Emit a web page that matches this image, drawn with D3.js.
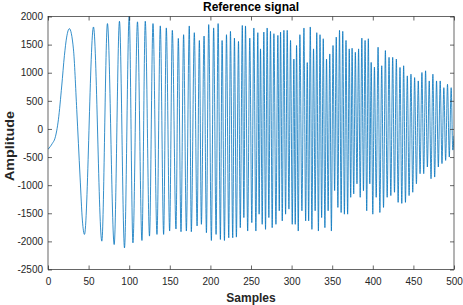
<!DOCTYPE html>
<html>
<head>
<meta charset="utf-8">
<script src="https://cdn.jsdelivr.net/npm/d3@7"></script>
<style>
  body { margin: 0; background: #fff; }
  svg { display: block; font-family: "Liberation Sans", Arial, Helvetica, sans-serif; }
</style>
</head>
<body>
<div id="chart"></div>
<script>
// sample index of each turning point
const samplePos = [
  0, 5.4, 8.6, 12.8, 16.9, 20.2, 23, 26.3, 31.3, 35.4, 39.5, 42.4, 44.9,
  56, 66.3, 73.2, 81.5, 88, 94.2, 100, 104.6, 110.2, 115.7, 119.8, 125,
  129.3, 134.2, 138.3, 142.4, 145.7, 149.8, 153.1, 157.6, 160.5, 163.8,
  167, 170.4, 174, 176.5, 180.2, 183.6, 186.4, 188.9, 192.2, 195.1, 197.9,
  201.2, 204, 207, 209.5, 212.3, 214.4, 217.3, 219.8, 222.6, 224.7, 227.5,
  229.6, 232, 234.6, 236.8, 239.3, 241.2, 243.2, 245.9, 248.5, 251, 253.5,
  256, 258.4, 260, 261.7, 263.8, 265.8, 267.9, 269.9, 272, 274, 276.1,
  278.2, 280.7, 283.1, 284.8, 286.4, 288.5, 290.5, 292.6, 294.6, 296.7,
  298.7, 300.8, 302.8, 304.5, 306.1, 308.2, 310.2, 312.7, 315.2, 317.3,
  319.3, 321, 323, 325, 327, 329, 331, 333, 335, 337, 339, 341, 343, 345,
  347, 349, 351, 353, 355, 357, 359, 361, 363, 365, 367, 369, 371, 372.8,
  374.5, 376.5, 378.5, 380.5, 382.5, 384.5, 386.5, 388.5, 390.5, 392.5,
  394.5, 396.3, 398, 400, 402, 404.2, 406.5, 408.7, 411, 413.2, 415.5,
  417.7, 420, 422.2, 424.5, 426.7, 429, 431.2, 433.5, 435.7, 438, 440.2,
  442.5, 444.7, 447, 449.2, 451.5, 453.7, 456, 458.2, 460.5, 462.7, 465,
  467.2, 469.5, 471.7, 474, 476.2, 478.5, 480.7, 483, 485.2, 487.5, 489.7,
  492, 494.2, 496.5, 498.5, 500
];

// amplitude at those points
const amplitude = [
  -364, -256, -166, 164, 764, 1304, 1634, 1784, 1424, 344, -856, -1636, -1876,
  1814, -1996, 1874, -2056, 1915, -2116, 2010, -2026, 1905, -1984, 1915, -1906,
  1874, -1876, 1833, -1876, 1797, -1816, 1753, -1780, 1610, -1828,
  1676, -1816, 1832, -1828, 1712, -1726, 1573, -1696, 1653, -1846, 1856,
  -1984, 1797, -1876, 1874, -1966, 1573, -1984, 1676, -1936, 1735, -1936,
  1617, -1924, 1556, -1756, 1840, -1576, 1832, -1816, 1616, -1666, 1796,
  -1816, 1712, -1516, 1424, -1696, 1724, -1786, 1796, -1576, 1736, -1756,
  1694, -1696, 1664, -1456, 1724, -1636, 1754, -1516, 1754, -1426,
  1574, -1696, 1244, -1696, 1484, -1816, 1676, -1456, 1796, -1636,
  1180, -1636, 1814, -1786, 1424, -1456, 1712, -1816, 1676, -1576, 1604, -1756, 1244, -1456,
  1334, -1816, 1484, -1096, 1634, -1396, 1754, -1486, 1736, -1516, 1574, -1516, 1424, -1216,
  1436, -1156, 1364, -976, 1424, -1216, 1616, -1100, 1574, -1456,
  1604, -976, 1184, -1516, 1100, -1216, 1454, -1486, 1124, -1396, 1394,
  -1216, 1274, -1186, 1274, -1126, 1244, -1306, 1094, -1324, 1124, -1306,
  944, -1186, 974, -1126, 914, -976, 854, -796, 1004, -796, 1034,
  -676, 854, -886, 974, -856, 854, -676, 854, -616, 734, -560,
  794, -500, 734, -376, -120
];

const xTicks = [0, 50, 100, 150, 200, 250, 300, 350, 400, 450, 500];
const yTicks = [-2500, -2000, -1500, -1000, -500, 0, 500, 1000, 1500, 2000];
const titleText = "Reference signal";
const xLabelText = "Samples";
const yLabelText = "Amplitude";

const W = 463, H = 305;
const margin = { top: 16.5, right: 9, bottom: 35.5, left: 48 };
const axisColor = "#262626";

const svg = d3.select("#chart").append("svg")
  .attr("width", W)
  .attr("height", H);

const x = d3.scaleLinear().domain([0, 500]).range([margin.left, W - margin.right]);
const y = d3.scaleLinear().domain([-2500, 2000]).range([H - margin.bottom, margin.top]);

svg.append("clipPath").attr("id", "plotClip")
  .append("rect")
  .attr("x", x(0)).attr("y", y(2000))
  .attr("width", x(500) - x(0)).attr("height", y(-2500) - y(2000));

// signal
const pts = samplePos.map((s, i) => [s, amplitude[i]]);
const line = d3.line()
  .x(d => x(d[0]))
  .y(d => y(d[1]))
  .curve(d3.curveMonotoneX);

svg.append("path")
  .datum(pts)
  .attr("clip-path", "url(#plotClip)")
  .attr("fill", "none")
  .attr("stroke", "#0072BD")
  .attr("stroke-width", 0.8)
  .attr("d", line);

// axes, ticks pointing inwards on all four sides
const fmt = d => String(d);
function styleAxis(g) {
  g.select(".domain").remove();
  g.selectAll(".tick line").attr("stroke", axisColor).attr("stroke-width", 0.7);
  g.selectAll(".tick text")
    .attr("fill", axisColor)
    .style("font-size", "10px")
    .style("font-family", "'Liberation Sans', Arial, sans-serif");
}

svg.append("g")
  .attr("transform", `translate(0,${y(-2500)})`)
  .call(d3.axisBottom(x).tickValues(xTicks).tickFormat(fmt).tickSizeInner(-4).tickSizeOuter(0).tickPadding(8))
  .call(styleAxis);

svg.append("g")
  .attr("transform", `translate(0,${y(2000)})`)
  .call(d3.axisTop(x).tickValues(xTicks).tickFormat("").tickSizeInner(-4).tickSizeOuter(0))
  .call(styleAxis);

svg.append("g")
  .attr("transform", `translate(${x(0)},0)`)
  .call(d3.axisLeft(y).tickValues(yTicks).tickFormat(fmt).tickSizeInner(-4).tickSizeOuter(0).tickPadding(5))
  .call(styleAxis);

svg.append("g")
  .attr("transform", `translate(${x(500)},0)`)
  .call(d3.axisRight(y).tickValues(yTicks).tickFormat("").tickSizeInner(-4).tickSizeOuter(0))
  .call(styleAxis);

// box
svg.append("rect")
  .attr("x", x(0)).attr("y", y(2000))
  .attr("width", x(500) - x(0)).attr("height", y(-2500) - y(2000))
  .attr("fill", "none")
  .attr("stroke", axisColor)
  .attr("stroke-width", 0.7);

// title and labels
svg.append("text")
  .attr("x", (x(0) + x(500)) / 2)
  .attr("y", 10.5)
  .attr("text-anchor", "middle")
  .attr("font-weight", "bold")
  .attr("font-size", 12)
  .attr("fill", "#000")
  .text(titleText);

svg.append("text")
  .attr("x", (x(0) + x(500)) / 2)
  .attr("y", 302)
  .attr("text-anchor", "middle")
  .attr("font-weight", "bold")
  .attr("font-size", 12)
  .attr("fill", axisColor)
  .text(xLabelText);

svg.append("text")
  .attr("transform", `translate(13.5,${(y(2000) + y(-2500)) / 2 + 3}) rotate(-90)`)
  .attr("text-anchor", "middle")
  .attr("font-weight", "bold")
  .attr("font-size", 12)
  .attr("textLength", 70)
  .attr("lengthAdjust", "spacingAndGlyphs")
  .attr("fill", axisColor)
  .text(yLabelText);
</script>
</body>
</html>
